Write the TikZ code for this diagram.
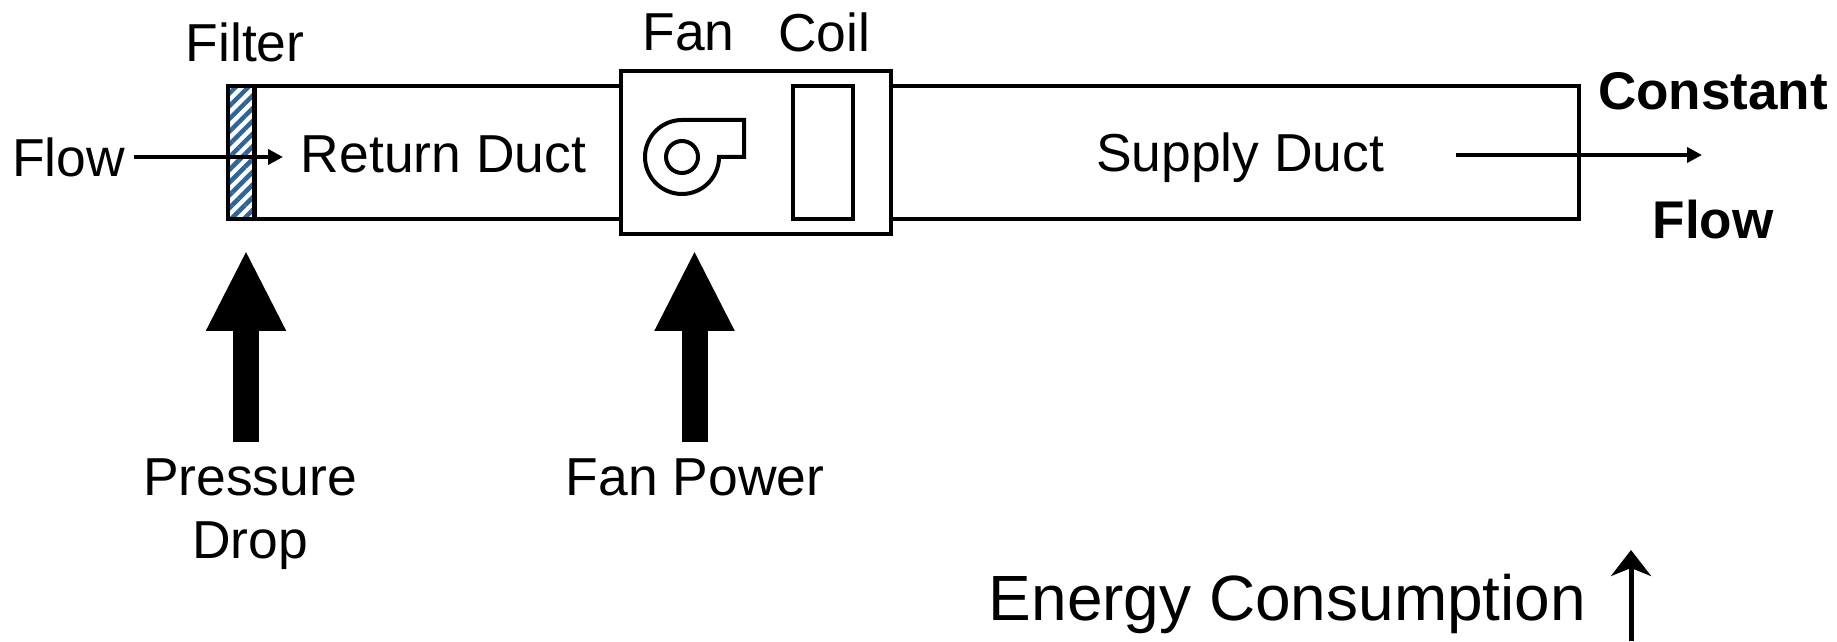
\documentclass[tikz,border=0pt]{standalone}
\usepackage{fontspec}
\setmainfont{Liberation Sans}
\usepackage{xcolor}
\usetikzlibrary{arrows.meta}
\usetikzlibrary{patterns.meta}
\definecolor{filterblue}{HTML}{2E6496}
\tikzset{
	label15/.style={inner sep=0pt, font=\fontsize{15.2}{18}\selectfont},
	labelbold/.style={inner sep=0pt, font=\fontsize{15.1}{18}\selectfont\bfseries},
	flowarrow/.style={line width=0.04cm, -{Triangle[length=0.15cm,width=0.15cm]}},
	bigarrow/.style={line width=0.26cm, -{Triangle[length=0.81cm,width=0.74cm]}},
	wall/.style={line width=0.045cm}
}
\begin{document}
\begin{tikzpicture}[line join=miter]
		\useasboundingbox (0,0) rectangle (18.37,6.41);
		% ducts and air handler
		\draw[wall] (2.28,4.22) rectangle (6.21,5.55);
		\draw[wall] (8.91,4.22) rectangle (15.79,5.55);
		\draw[wall, fill=white] (6.21,4.07) rectangle (8.91,5.70);
		\draw[wall] (7.93,4.22) rectangle (8.53,5.55);
		\draw[wall, pattern={Lines[angle=45,distance=0.09cm,line width=0.045cm]}, pattern color=filterblue] (2.28,4.22) rectangle (2.545,5.55);
		% fan
		\draw[line width=0.04cm] (6.82,5.21) -- (7.44,5.21) -- (7.44,4.84) -- (7.19,4.84) arc (0:-270:0.37);
		\draw[line width=0.04cm] (6.82,4.84) circle (0.16);
		% labels
		\node[label15] (filter) at (2.45,5.99) {Filter};
		\node[label15] (fan) at (6.885,6.09) {Fan};
		\node[label15] (coil) at (8.24,6.09) {Coil};
		\node[label15] (flowin) at (0.685,4.835) {Flow};
		\node[label15] (returnduct) at (4.435,4.87) {Return Duct};
		\node[label15] (supplyduct) at (12.40,4.835) {Supply Duct};
		\node[labelbold] (constant) at (17.13,5.50) {Constant};
		\node[labelbold] (flowout) at (17.13,4.21) {Flow};
		\node[label15, align=center] (drop) at (2.50,1.265) {Pressure\\Drop};
		\node[label15] (fanpower) at (6.95,1.635) {Fan Power};
		\node[inner sep=0pt, font=\fontsize{18.2}{22}\selectfont] (energy) at (12.875,0.375) {Energy Consumption};
		% arrows
		\coordinate (flowstart) at (1.34,4.84);
		\coordinate (flowend) at (2.83,4.84);
		\coordinate (outstart) at (14.56,4.86);
		\coordinate (outend) at (17.02,4.86);
		\coordinate (dropbase) at (2.46,1.99);
		\coordinate (droptip) at (2.46,3.91);
		\coordinate (powerbase) at (6.945,1.99);
		\coordinate (powertip) at (6.945,3.91);
		\coordinate (energybase) at (16.31,0);
		\coordinate (energytip) at (16.31,0.91);
		\draw[flowarrow] (flowstart) -- (flowend);
		\draw[flowarrow] (outstart) -- (outend);
		\draw[bigarrow] (dropbase) -- (droptip);
		\draw[bigarrow] (powerbase) -- (powertip);
		\draw[line width=0.05cm, -{Stealth[length=0.26cm,width=0.40cm,inset=0.08cm]}] (energybase) -- (energytip);
	\end{tikzpicture}
\end{document}
